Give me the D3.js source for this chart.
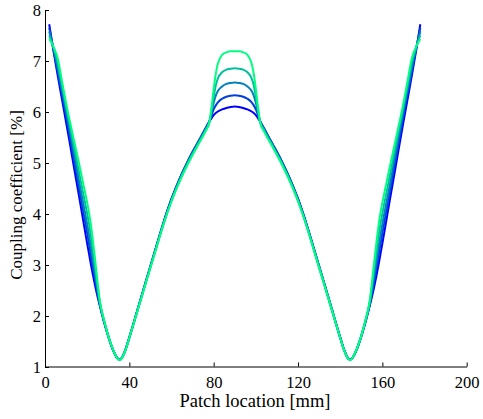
<!DOCTYPE html>
<html>
<head>
<meta charset="utf-8">
<script src="https://cdn.jsdelivr.net/npm/d3@7"></script>
<style>
  body { margin: 0; background: #fff; }
  svg { display: block; }
</style>
</head>
<body>
<svg id="chart" width="483" height="419"></svg>
<script>
// patch location [mm]
let xs = [2, 4, 6, 8, 10, 12, 14, 16, 18, 20, 21, 22, 23, 24, 26, 28, 30, 32, 34, 35, 36, 38, 40,
    44, 48, 52, 56, 60, 64, 68, 72, 76, 78, 79, 80, 81, 82, 84, 86, 88, 90,
    92, 94, 96, 98, 99, 100, 101, 102, 104, 108, 112, 116, 120, 124, 128, 132, 136,
    140, 142, 144, 145, 146, 148, 150, 152, 154, 156, 157, 158, 159, 160, 162, 164, 166, 168, 170, 172, 174, 176, 178];

// coupling coefficient [%], one array per curve (blue -> green)
let s1 = [7.72, 7.20, 6.72, 6.26, 5.80, 5.33, 4.85, 4.38, 3.90, 3.42, 3.19, 2.96, 2.75, 2.55, 2.20, 1.88, 1.60, 1.36, 1.19, 1.15, 1.16, 1.32, 1.58,
    2.14, 2.70, 3.26, 3.81, 4.30, 4.71, 5.06, 5.37, 5.67, 5.82, 5.88, 5.94, 5.98, 6.01, 6.05, 6.08, 6.10, 6.11,
    6.10, 6.08, 6.05, 6.01, 5.98, 5.94, 5.88, 5.82, 5.67, 5.37, 5.06, 4.71, 4.30, 3.81, 3.26, 2.70, 2.14,
    1.58, 1.32, 1.16, 1.15, 1.19, 1.36, 1.60, 1.88, 2.20, 2.55, 2.75, 2.96, 3.19, 3.42, 3.90, 4.38, 4.85, 5.33, 5.80, 6.26, 6.72, 7.20, 7.72];
let s2 = [7.65, 7.23, 6.80, 6.36, 5.92, 5.46, 5.00, 4.54, 4.08, 3.62, 3.38, 3.12, 2.88, 2.65, 2.22, 1.89, 1.60, 1.36, 1.19, 1.15, 1.16, 1.32, 1.58,
    2.14, 2.70, 3.25, 3.80, 4.29, 4.70, 5.05, 5.36, 5.66, 5.82, 5.94, 6.05, 6.13, 6.19, 6.26, 6.30, 6.32, 6.33,
    6.32, 6.30, 6.26, 6.19, 6.13, 6.05, 5.94, 5.82, 5.66, 5.36, 5.05, 4.70, 4.29, 3.80, 3.25, 2.70, 2.14,
    1.58, 1.32, 1.16, 1.15, 1.19, 1.36, 1.60, 1.89, 2.22, 2.65, 2.88, 3.12, 3.38, 3.62, 4.08, 4.54, 5.00, 5.46, 5.92, 6.36, 6.80, 7.23, 7.65];
let s3 = [7.58, 7.25, 6.88, 6.45, 6.03, 5.59, 5.14, 4.68, 4.24, 3.80, 3.56, 3.30, 3.03, 2.76, 2.25, 1.90, 1.61, 1.36, 1.19, 1.15, 1.16, 1.32, 1.58,
    2.13, 2.69, 3.24, 3.79, 4.28, 4.69, 5.04, 5.35, 5.65, 5.82, 6.00, 6.18, 6.32, 6.41, 6.50, 6.55, 6.57, 6.58,
    6.57, 6.55, 6.50, 6.41, 6.32, 6.18, 6.00, 5.82, 5.65, 5.35, 5.04, 4.69, 4.28, 3.79, 3.24, 2.69, 2.13,
    1.58, 1.32, 1.16, 1.15, 1.19, 1.36, 1.61, 1.90, 2.25, 2.76, 3.03, 3.30, 3.56, 3.80, 4.24, 4.68, 5.14, 5.59, 6.03, 6.45, 6.88, 7.25, 7.58];
let s4 = [7.50, 7.27, 6.97, 6.54, 6.11, 5.69, 5.27, 4.85, 4.43, 4.01, 3.78, 3.51, 3.20, 2.89, 2.27, 1.91, 1.61, 1.37, 1.19, 1.14, 1.15, 1.31, 1.57,
    2.13, 2.68, 3.23, 3.78, 4.26, 4.67, 5.02, 5.33, 5.63, 5.81, 6.05, 6.30, 6.52, 6.66, 6.78, 6.83, 6.85, 6.86,
    6.85, 6.83, 6.78, 6.66, 6.52, 6.30, 6.05, 5.81, 5.63, 5.33, 5.02, 4.67, 4.26, 3.78, 3.23, 2.68, 2.13,
    1.57, 1.31, 1.15, 1.14, 1.19, 1.37, 1.61, 1.91, 2.27, 2.89, 3.20, 3.51, 3.78, 4.01, 4.43, 4.85, 5.27, 5.69, 6.11, 6.54, 6.97, 7.27, 7.50];
let s5 = [7.43, 7.28, 7.06, 6.62, 6.18, 5.78, 5.40, 5.02, 4.62, 4.22, 4.00, 3.72, 3.38, 3.02, 2.30, 1.92, 1.61, 1.37, 1.19, 1.14, 1.15, 1.31, 1.57,
    2.12, 2.67, 3.22, 3.77, 4.25, 4.65, 5.00, 5.31, 5.61, 5.80, 6.10, 6.45, 6.75, 6.95, 7.12, 7.17, 7.19, 7.19,
    7.19, 7.17, 7.12, 6.95, 6.75, 6.45, 6.10, 5.80, 5.61, 5.31, 5.00, 4.65, 4.25, 3.77, 3.22, 2.67, 2.12,
    1.57, 1.31, 1.15, 1.14, 1.19, 1.37, 1.61, 1.92, 2.30, 3.02, 3.38, 3.72, 4.00, 4.22, 4.62, 5.02, 5.40, 5.78, 6.18, 6.62, 7.06, 7.28, 7.43];

let series = [s1, s2, s3, s4, s5];
let colors = ["rgb(0,0,255)", "rgb(0,64,223)", "rgb(0,128,191)", "rgb(0,191,159)", "rgb(0,255,128)"];

let xTicks = [0, 40, 80, 120, 160, 200];
let yTicks = [1, 2, 3, 4, 5, 6, 7, 8];

let serif = "'Liberation Serif'";

let svg = d3.select("#chart");

let x = d3.scaleLinear().domain([0, 200]).range([45, 466.7]);
let y = d3.scaleLinear().domain([1, 8]).range([367, 10]);

let line = d3.line()
    .x((d, i) => x(xs[i]))
    .y(d => y(d))
    .curve(d3.curveMonotoneX);

svg.append("g")
    .selectAll("path")
    .data(series)
    .enter()
    .append("path")
    .attr("d", d => line(d))
    .attr("fill", "none")
    .attr("stroke", (d, i) => colors[i])
    .attr("stroke-width", 2)
    .attr("stroke-linejoin", "round");

// axes, ticks pointing inwards like matlab
let xAxis = svg.append("g")
    .attr("transform", "translate(0,366.5)")
    .call(d3.axisBottom(x).tickValues(xTicks).tickFormat(d3.format("d"))
        .tickSizeInner(-4).tickSizeOuter(0).tickPadding(10));
let yAxis = svg.append("g")
    .attr("transform", "translate(45,0)")
    .call(d3.axisLeft(y).tickValues(yTicks).tickFormat(d3.format("d"))
        .tickSizeInner(-4).tickSizeOuter(0).tickPadding(4));

[xAxis, yAxis].forEach(function (a) {
    a.select(".domain").attr("stroke", "#000");
    a.selectAll(".tick text")
        .style("font-family", serif)
        .style("font-size", "16.5px")
        .attr("fill", "#000");
});

svg.append("text")
    .attr("x", 255)
    .attr("y", 407)
    .attr("text-anchor", "middle")
    .style("font-family", serif)
    .style("font-size", "18.5px")
    .text("Patch location [mm]");

svg.append("text")
    .attr("transform", "translate(22,195) rotate(-90)")
    .attr("text-anchor", "middle")
    .style("font-family", serif)
    .style("font-size", "17px")
    .text("Coupling coefficient [%]");
</script>
</body>
</html>
